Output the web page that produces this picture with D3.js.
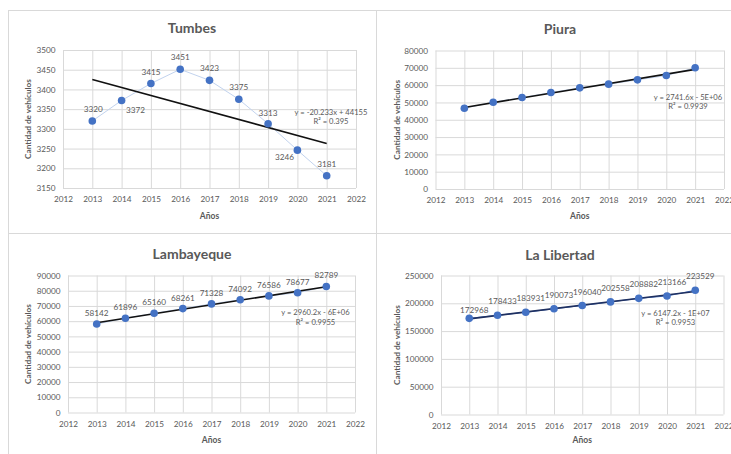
<!DOCTYPE html>
<html>
<head>
<meta charset="utf-8">
<script src="https://cdn.jsdelivr.net/npm/d3@7"></script>
<style>
  body { margin: 0; background: #ffffff; }
  svg { display: block; }
  text { font-family: Lato, "Open Sans", sans-serif; }
</style>
</head>
<body>
<svg id="chart" width="731" height="454"></svg>
<script>
// ---- data -------------------------------------------------------------
const years = [2013, 2014, 2015, 2016, 2017, 2018, 2019, 2020, 2021];
const xTicks = [2012, 2013, 2014, 2015, 2016, 2017, 2018, 2019, 2020, 2021, 2022];

const tumbes     = [3320, 3372, 3415, 3451, 3423, 3375, 3313, 3246, 3181];
const piura      = [46680, 50150, 52810, 55700, 58420, 60560, 63050, 65540, 70000];
const lambayeque = [58142, 61896, 65160, 68261, 71328, 74092, 76586, 78677, 82789];
const laLibertad = [172968, 178433, 183931, 190073, 196040, 202558, 208882, 213166, 223529];

const tumbesTicks     = [3150, 3200, 3250, 3300, 3350, 3400, 3450, 3500];
const piuraTicks      = [0, 10000, 20000, 30000, 40000, 50000, 60000, 70000, 80000];
const lambayequeTicks = [0, 10000, 20000, 30000, 40000, 50000, 60000, 70000, 80000, 90000];
const laLibertadTicks = [0, 50000, 100000, 150000, 200000, 250000];

const titles = ["Tumbes", "Piura", "Lambayeque", "La Libertad"];
const equations = ["y = -20.233x + 44155", "y = 2741.6x - 5E+06", "y = 2960.2x - 6E+06", "y = 6147.2x - 1E+07"];
const rSquared  = ["R² = 0.395", "R² = 0.9939", "R² = 0.9955", "R² = 0.9953"];

// ---- label placement (offset of each value label from its point) -------
const tumbesLabelOffsets = [[1, -12], [14, 10], [0, -12], [0, -12], [0, -12], [0, -12], [0, -11], [-13, 7], [0, -12]];
const lambLabelOffsets   = years.map(() => [0, -11]);
const libLabelOffsets    = [[5, -8], [5, -14], [5, -14], [5, -14], [5, -14], [5, -14], [5, -14], [5, -14], [5, -14]];

// ---- panel layout -----------------------------------------------------
const panels = [
  { values: tumbes, ticks: tumbesTicks, title: titles[0], eq: equations[0], r2: rSquared[0],
    plot: { l: 63, t: 50, r: 356, b: 188 }, titleX: 192, titleY: 28, ylabX: 28, xlabY: 216,
    eqX: 331, eqY: 112, labels: tumbesLabelOffsets, trend: "#111111", link: "#c2d3ee" },
  { values: piura, ticks: piuraTicks, title: titles[1], eq: equations[1], r2: rSquared[1],
    plot: { l: 435.5, t: 50.5, r: 724, b: 189 }, titleX: 560, titleY: 29, ylabX: 397, xlabY: 216,
    eqX: 688, eqY: 97, labels: null, trend: "#111111", link: "#c2d3ee" },
  { values: lambayeque, ticks: lambayequeTicks, title: titles[2], eq: equations[2], r2: rSquared[2],
    plot: { l: 68, t: 275.5, r: 355, b: 412.5 }, titleX: 192, titleY: 254, ylabX: 28, xlabY: 440,
    eqX: 315.5, eqY: 312.5, labels: lambLabelOffsets, trend: "#111111", link: "#c2d3ee" },
  { values: laLibertad, ticks: laLibertadTicks, title: titles[3], eq: equations[3], r2: rSquared[3],
    plot: { l: 441, t: 275.5, r: 723.5, b: 414.5 }, titleX: 560, titleY: 255, ylabX: 397, xlabY: 440,
    eqX: 675.5, eqY: 313, labels: libLabelOffsets, trend: "#1f3060", link: "#4472c4" }
];

const svg = d3.select("#chart");
const GRID = "#d9d9d9";
const TEXT = "#595959";
const BLUE = "#4472c4";

// outer frame lines separating the four chart boxes
const frame = svg.append("g").attr("stroke", GRID).attr("stroke-width", 1);
frame.append("line").attr("x1", 8.5).attr("x2", 8.5).attr("y1", 10).attr("y2", 454);
frame.append("line").attr("x1", 376.5).attr("x2", 376.5).attr("y1", 10).attr("y2", 454);
frame.append("line").attr("x1", 8).attr("x2", 731).attr("y1", 10.5).attr("y2", 10.5);
frame.append("line").attr("x1", 8).attr("x2", 731).attr("y1", 233.5).attr("y2", 233.5);

// least-squares linear fit
function linearFit(xs, ys) {
  const mx = d3.mean(xs), my = d3.mean(ys);
  let sxy = 0, sxx = 0;
  xs.forEach((x, i) => { sxy += (x - mx) * (ys[i] - my); sxx += (x - mx) * (x - mx); });
  const slope = sxy / sxx;
  return { slope, intercept: my - slope * mx };
}

panels.forEach(p => {
  const { l, t, r, b } = p.plot;
  const x = d3.scaleLinear().domain([2012, 2022]).range([l, r]);
  const y = d3.scaleLinear().domain([d3.min(p.ticks), d3.max(p.ticks)]).range([b, t]);
  const g = svg.append("g");

  // horizontal gridlines + y tick labels
  const yAxis = g.append("g").attr("transform", `translate(${l},0)`)
    .call(d3.axisLeft(y).tickValues(p.ticks).tickFormat(d3.format("d"))
      .tickSize(-(r - l)).tickPadding(7.5));
  yAxis.select(".domain").remove();
  yAxis.selectAll("line").attr("stroke", GRID);
  yAxis.selectAll("text").attr("fill", TEXT).attr("font-size", 8.2);

  // vertical gridlines + x tick labels
  const xAxis = g.append("g").attr("transform", `translate(0,${b})`)
    .call(d3.axisBottom(x).tickValues(xTicks).tickFormat(d3.format("d"))
      .tickSize(-(b - t)).tickPadding(8.5));
  xAxis.select(".domain").remove();
  xAxis.selectAll("line").attr("stroke", GRID);
  xAxis.selectAll("text").attr("fill", TEXT).attr("font-size", 8.2);

  // title and axis titles
  g.append("text").attr("x", p.titleX).attr("y", p.titleY + 5)
    .attr("text-anchor", "middle").attr("font-size", 14).attr("font-weight", 700)
    .attr("fill", TEXT).text(p.title);
  g.append("text").attr("x", (l + r) / 2).attr("y", p.xlabY + 3)
    .attr("text-anchor", "middle").attr("font-size", 8.5).attr("font-weight", 700)
    .attr("fill", TEXT).text("Años");
  g.append("text")
    .attr("transform", `translate(${p.ylabX + 3},${(t + b) / 2}) rotate(-90)`)
    .attr("text-anchor", "middle").attr("font-size", 8.2).attr("font-weight", 700)
    .attr("fill", TEXT).text("Cantidad de vehículos");

  const pts = years.map((yr, i) => ({ yr, v: p.values[i] }));

  // connecting series line
  g.append("path").datum(pts)
    .attr("fill", "none").attr("stroke", p.link).attr("stroke-width", 1)
    .attr("d", d3.line().x(d => x(d.yr)).y(d => y(d.v)));

  // linear trendline
  const fit = linearFit(years, p.values);
  const ends = [years[0], years[years.length - 1]];
  g.append("line")
    .attr("x1", x(ends[0])).attr("y1", y(fit.slope * ends[0] + fit.intercept))
    .attr("x2", x(ends[1])).attr("y2", y(fit.slope * ends[1] + fit.intercept))
    .attr("stroke", p.trend).attr("stroke-width", 1.6);

  // markers
  g.selectAll("circle.pt").data(pts).join("circle").attr("class", "pt")
    .attr("cx", d => x(d.yr)).attr("cy", d => y(d.v)).attr("r", 3.8)
    .attr("fill", BLUE);

  // value labels
  if (p.labels) {
    g.selectAll("text.val").data(pts).join("text").attr("class", "val")
      .attr("x", (d, i) => x(d.yr) + p.labels[i][0])
      .attr("y", (d, i) => y(d.v) + p.labels[i][1] + 3)
      .attr("text-anchor", "middle").attr("font-size", 8.2).attr("fill", TEXT)
      .text(d => d.v);
  }

  // trendline equation
  g.append("text").attr("x", p.eqX).attr("y", p.eqY + 2.7)
    .attr("text-anchor", "middle").attr("font-size", 7.6).attr("fill", TEXT).text(p.eq);
  g.append("text").attr("x", p.eqX).attr("y", p.eqY + 9.5 + 2.7)
    .attr("text-anchor", "middle").attr("font-size", 7.6).attr("fill", TEXT).text(p.r2);
});
</script>
</body>
</html>
